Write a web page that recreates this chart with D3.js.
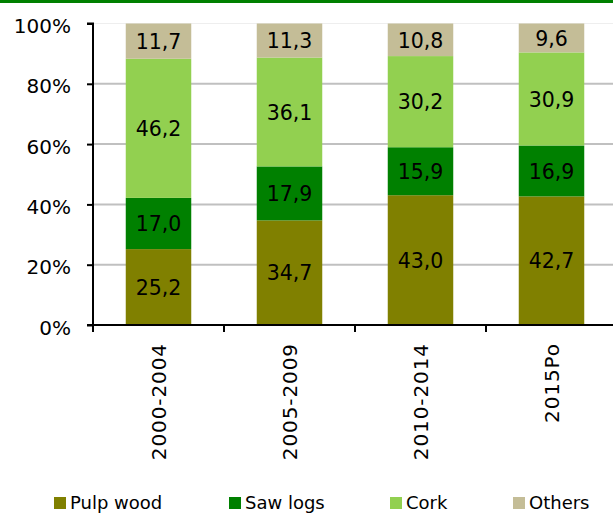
<!DOCTYPE html>
<html><head><meta charset="utf-8">
<script src="https://cdn.jsdelivr.net/npm/d3@7"></script>
<style>
body{margin:0;background:#fff;}
svg{display:block;font-family:"DejaVu Sans",Verdana,sans-serif;}
</style></head>
<body>
<svg id="c" width="613" height="513"></svg>
<script>
const categories = ["2000-2004","2005-2009","2010-2014","2015Po"];
const seriesNames = ["Pulp wood","Saw logs","Cork","Others"];
const pulpWood = [25.2, 34.7, 43.0, 42.7];
const sawLogs = [17.0, 17.9, 15.9, 16.9];
const cork = [46.2, 36.1, 30.2, 30.9];
const others = [11.7, 11.3, 10.8, 9.6];
const yTicks = [0, 0.2, 0.4, 0.6, 0.8, 1.0];
const colors = ["#808000", "#008000", "#92d050", "#c4bd97"];

const seriesArrays = [pulpWood, sawLogs, cork, others];
const rows = categories.map((c, i) => {
  const r = {cat: c};
  seriesNames.forEach((s, j) => r[s] = seriesArrays[j][i]);
  return r;
});

const svg = d3.select("#c");
const plotLeft = 93, plotTop = 23.5, plotBottom = 325, bandW = 131;
const x = d3.scaleBand().domain(categories).range([plotLeft, plotLeft + bandW * categories.length]).paddingInner(0.5).paddingOuter(0.25);
const y = d3.scaleLinear().domain([0, 1]).range([plotBottom, plotTop]);

// top green line
svg.append("rect").attr("x", 0).attr("y", 0).attr("width", 613).attr("height", 3).attr("fill", "#008000");

// gridlines
svg.append("g").selectAll("line").data(yTicks.filter(t => t > 0)).join("line")
  .attr("x1", plotLeft).attr("x2", 613)
  .attr("y1", d => y(d)).attr("y2", d => y(d))
  .attr("stroke", d => d === 1 ? "#eeeeee" : "#c0c0c0")
  .attr("stroke-width", d => d === 1 ? 1 : 2);

const stack = d3.stack().keys(seriesNames).offset(d3.stackOffsetExpand);
const stacked = stack(rows);

const g = svg.append("g");
stacked.forEach((layer, li) => {
  g.append("g").selectAll("rect").data(layer).join("rect")
    .attr("x", d => x(d.data.cat))
    .attr("width", x.bandwidth())
    .attr("y", d => y(d[1]))
    .attr("height", d => y(d[0]) - y(d[1]))
    .attr("fill", colors[li]);
  g.append("g").selectAll("text").data(layer).join("text")
    .attr("x", d => x(d.data.cat) + x.bandwidth() / 2)
    .attr("y", d => (y(d[0]) + y(d[1])) / 2)
    .attr("dy", "0.38em")
    .attr("text-anchor", "middle")
    .attr("font-size", 20.5)
    .attr("fill", "#000")
    .text(d => d.data[layer.key].toFixed(1).replace(".", ","));
});

// y axis
const yAxis = d3.axisLeft(y).tickValues(yTicks).tickFormat(d => Math.round(d * 100) + "%").tickSize(6).tickPadding(16);
const ya = svg.append("g").attr("transform", `translate(${plotLeft},0)`).call(yAxis);
ya.select(".domain").attr("stroke", "#000").attr("stroke-width", 2).attr("d", `M-6,${y(1)}H0V${plotBottom}H-6`);
ya.selectAll(".tick line").attr("stroke", "#000").attr("stroke-width", 2);
ya.selectAll(".tick text").attr("font-size", 20).attr("fill", "#000").attr("dy", "0.45em")
  .attr("font-family", "DejaVu Sans, Verdana, sans-serif");

// x axis
const xa = svg.append("g");
xa.append("line").attr("x1", plotLeft - 1).attr("x2", 613).attr("y1", plotBottom).attr("y2", plotBottom).attr("stroke", "#000").attr("stroke-width", 2);
xa.selectAll("line.tk").data(d3.range(categories.length + 1)).join("line").attr("class", "tk")
  .attr("x1", i => x.range()[0] + i * bandW).attr("x2", i => x.range()[0] + i * bandW)
  .attr("y1", plotBottom).attr("y2", plotBottom + 7).attr("stroke", "#000").attr("stroke-width", 2);
xa.selectAll("text").data(categories).join("text")
  .attr("transform", d => `translate(${x(d) + x.bandwidth() / 2},${plotBottom + 18}) rotate(-90)`)
  .attr("text-anchor", "end").attr("dy", "0.36em").attr("letter-spacing", "0.9px")
  .attr("font-size", 20).attr("fill", "#000").text(d => d);

// legend
const legX = [54, 229, 390, 513];
const leg = svg.append("g");
seriesNames.forEach((s, i) => {
  leg.append("rect").attr("x", legX[i]).attr("y", 497).attr("width", 12).attr("height", 12).attr("fill", colors[i]);
  leg.append("text").attr("x", legX[i] + 16).attr("y", 503).attr("dy", "0.36em").attr("font-size", 18).attr("fill", "#000").text(s);
});
</script>
</body></html>
